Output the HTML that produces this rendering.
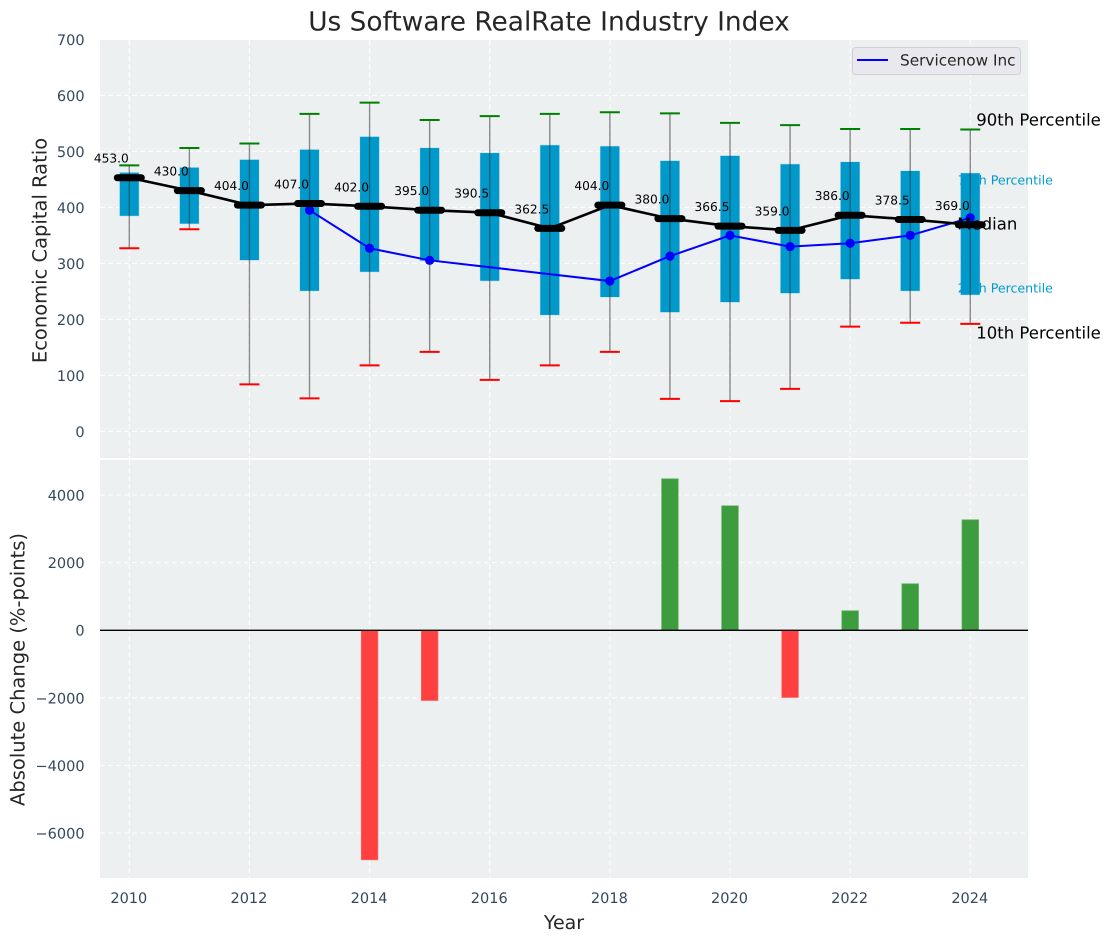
<!DOCTYPE html>
<html lang="en">
<head>
<meta charset="utf-8">
<title>Us Software RealRate Industry Index</title>
<style>
html,body{margin:0;padding:0;background:#fff;width:1111px;height:942px;overflow:hidden}
svg{display:block}
text{font-family:"DejaVu Sans","Liberation Sans",sans-serif;text-rendering:geometricPrecision}
</style>
</head>
<body>
<svg id="chart" width="1111" height="942" viewBox="0 0 1111 942" xmlns="http://www.w3.org/2000/svg"></svg>
<script>
const years = [2010,2011,2012,2013,2014,2015,2016,2017,2018,2019,2020,2021,2022,2023,2024];
const p90 = [475,506,514,567,587,556,563,567,570,568,551,547,540,540,539];
const p75 = [462,471,485,503,526,506,497,511,509,483,492,477,481,465,461];
const medians = [453,430,404,407,402,395,390.5,362.5,404,380,366.5,359,386,378.5,369];
const p25 = [385,371,306,251,285,305,269,208,240,213,231,247,272,251,244];
const p10 = [327,361,84,59,118,142,92,118,142,58,54,76,187,194,192];
const companyYears = [2013,2014,2015,2018,2019,2020,2021,2022,2023,2024];
const companyValues = [395,327,305.5,268.5,313,350,330,336,350,381.5];
const changeYears = [2014,2015,2019,2020,2021,2022,2023,2024];
const changeValues = [-6790,-2077,4482,3683,-1988,577,1376,3269];
const xTicks = [2010,2012,2014,2016,2018,2020,2022,2024];
const topTicks = [0,100,200,300,400,500,600,700];
const bottomTicks = [-6000,-4000,-2000,0,2000,4000];

const NS = 'http://www.w3.org/2000/svg';
const svg = document.getElementById('chart');
const plotLeft = 100, plotRight = 1028;
const topPlotTop = 40, topPlotBottom = 458;
const bottomPlotTop = 460, bottomPlotBottom = 878;

function xScale(year){ return 129.3 + (year - 2010) * 60.07; }
function yTop(v){ return 431.4 - v * 0.56; }
function yBottom(v){ return 630.3 - v * 0.0338; }

function make(tag, props, content){
  const el = document.createElementNS(NS, tag);
  for (const k in props) el.setAttribute(k, props[k]);
  if (content !== undefined) el.textContent = content;
  svg.appendChild(el);
  return el;
}
function line(x1,y1,x2,y2,stroke,width,extra){
  return make('line', Object.assign({x1:x1,y1:y1,x2:x2,y2:y2,stroke:stroke,'stroke-width':width}, extra||{}));
}
function rect(x,y,w,h,fill,extra){
  return make('rect', Object.assign({x:x,y:y,width:w,height:h,fill:fill}, extra||{}));
}
function label(x,y,str,size,fill,anchor,extra){
  return make('text', Object.assign({x:x,y:y,'font-size':size,fill:fill,'text-anchor':anchor||'start','dominant-baseline':'central'}, extra||{}), str);
}
let el;

/* figure title */
el = label(549,22,'Us Software RealRate Industry Index',26.4,'#262626','middle');



/* plot backgrounds */
el = rect(plotLeft,topPlotTop,plotRight-plotLeft,topPlotBottom-topPlotTop,'#ecf0f1');


el = rect(plotLeft,bottomPlotTop,plotRight-plotLeft,bottomPlotBottom-bottomPlotTop,'#ecf0f1');



const gridStyle = {'stroke-dasharray':'5 3','stroke-opacity':'0.85'};

/* top grid and y ticks */
topTicks.forEach(function(t){
  el = line(plotLeft,yTop(t),plotRight,yTop(t),'#fff',1.1,gridStyle);
  
  
  el = label(84.6,yTop(t)+1.4,String(t),14.5,'#34495e','end');
  
  
});
/* bottom grid and y ticks */
bottomTicks.forEach(function(t){
  el = line(plotLeft,yBottom(t),plotRight,yBottom(t),'#fff',1.1,gridStyle);
  
  
  el = label(84.6,yBottom(t)+1.4,String(t).replace('-','\u2212'),14.5,'#34495e','end');
  
  
});
/* vertical grid and x ticks */
xTicks.forEach(function(t){
  el = line(xScale(t),topPlotTop,xScale(t),topPlotBottom,'#fff',1.1,gridStyle);
  
  
  el = line(xScale(t),bottomPlotTop,xScale(t),bottomPlotBottom,'#fff',1.1,gridStyle);
  
  
  el = label(xScale(t)-0.5,899,String(t),14.5,'#34495e','middle');
  
  
});

const last = years.length - 1;
const lastX = xScale(years[last]);

/* interquartile boxes */
years.forEach(function(y,i){
  el = rect(xScale(y)-9.5,yTop(p75[i]),19,yTop(p25[i])-yTop(p75[i]),'#0099cc',{stroke:'#0099cc','stroke-opacity':'0.2','stroke-width':1});
  
  
});

/* quartile annotations match the box colour, so they vanish where they cross it */
el = label(lastX-12.5,yTop(p75[last])+7,'75th Percentile',12.6,'#0099cc','start');


el = label(lastX-12.5,yTop(p25[last])-7,'25th Percentile',12.6,'#0099cc','start');



/* whiskers and caps */
years.forEach(function(y,i){
  const x = xScale(y);
  el = line(x,yTop(p90[i]),x,yTop(p10[i]),'#333',1.4,{'stroke-opacity':'0.55'});
  
  
  el = line(x-10,yTop(p90[i]),x+10,yTop(p90[i]),'#008000',2);
  
  
  el = line(x-10,yTop(p10[i]),x+10,yTop(p10[i]),'#ff0000',2);
  
  
});

/* company series */
el = make('polyline',{points:companyYears.map(function(y,i){return xScale(y)+','+yTop(companyValues[i]);}).join(' '),fill:'none',stroke:'#0000ff','stroke-width':2});


companyYears.forEach(function(y,i){
  el = make('circle',{cx:xScale(y),cy:yTop(companyValues[i]),r:4.6,fill:'#0000ff'});
  
  
});

/* median line */
el = make('polyline',{points:years.map(function(y,i){return xScale(y)+','+yTop(medians[i]);}).join(' '),fill:'none',stroke:'#000','stroke-width':2.6});


years.forEach(function(y,i){
  const x = xScale(y);
  el = line(x-12,yTop(medians[i]),x+12,yTop(medians[i]),'#000',7,{'stroke-linecap':'round'});
  
  
  el = label(x-18,yTop(medians[i])-19,medians[i].toFixed(1),12.2,'#000','middle');
  
  
});

/* remaining percentile annotations */
el = label(lastX+6,yTop(p90[last])-9.5,'90th Percentile',16.5,'#000','start');


el = label(lastX-13,yTop(medians[last])-1,'Median',16.5,'#000','start');


el = label(lastX+6,yTop(p10[last])+9,'10th Percentile',16.5,'#000','start');



/* absolute change bars */
changeYears.forEach(function(y,i){
  const v = changeValues[i];
  const top = Math.min(yBottom(v),yBottom(0));
  const h = Math.abs(yBottom(v)-yBottom(0));
  const color = v < 0 ? '#ff4040' : '#3d9c3d';
  const edge = v < 0 ? '#ff6060' : '#5cae5c';
  el = rect(xScale(y)-8.3,top,16.6,h,color,{stroke:edge,'stroke-width':0.7});
  
  
});
el = line(plotLeft,yBottom(0),plotRight,yBottom(0),'#000',1.3);



/* axis titles */
el = label(40,250.5,'Economic Capital Ratio',19.5,'#262626','middle',{transform:'rotate(-90 40 250.5)'});


el = label(18,669.5,'Absolute Change (%-points)',19.5,'#262626','middle',{transform:'rotate(-90 18 669.5)'});


el = label(564,923,'Year',19,'#262626','middle');



/* legend */
el = rect(852.5,47.5,168,27,'#e8e8ee',{stroke:'#d0d0d6','stroke-width':1,rx:3,ry:3});


el = line(857,60,888,60,'#0000ff',2);


el = label(900,60.5,'Servicenow Inc',15.3,'#262626','start');


</script>
</body>
</html>
